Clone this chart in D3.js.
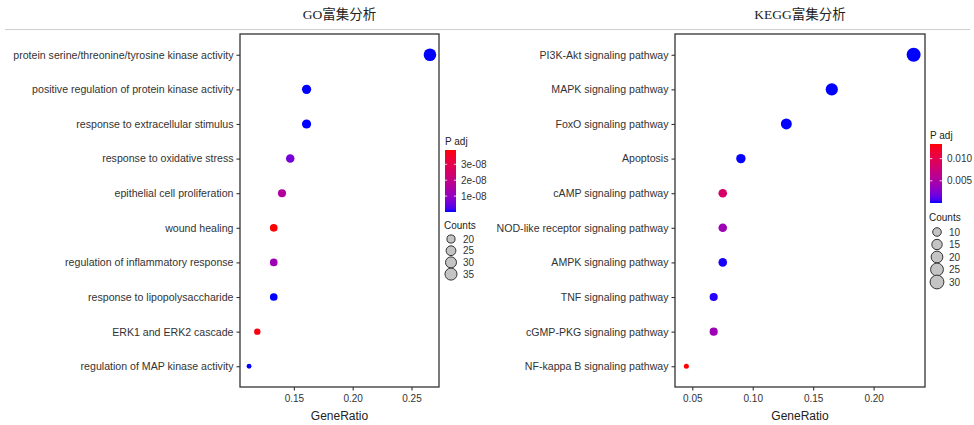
<!DOCTYPE html>
<html><head><meta charset="utf-8">
<script src="https://cdn.jsdelivr.net/npm/d3@7"></script>
<style>
html,body{margin:0;padding:0;background:#fff;}
svg{display:block;}
text{font-family:"Liberation Sans",Arial,sans-serif;}
.title{font-family:"Liberation Serif","Noto Sans CJK SC",serif;}
</style></head>
<body>
<svg id="chart" width="974" height="425"></svg>
<script>
// ---------- data ----------
const goTerms = [
  "protein serine/threonine/tyrosine kinase activity",
  "positive regulation of protein kinase activity",
  "response to extracellular stimulus",
  "response to oxidative stress",
  "epithelial cell proliferation",
  "wound healing",
  "regulation of inflammatory response",
  "response to lipopolysaccharide",
  "ERK1 and ERK2 cascade",
  "regulation of MAP kinase activity"
];
const goRatio  = [0.2657, 0.1608, 0.1608, 0.1469, 0.1399, 0.1329, 0.1329, 0.1329, 0.1189, 0.1119];
const goCount  = [38, 23, 23, 21, 20, 19, 19, 19, 17, 16];
const goPadj   = [1e-15, 2e-13, 5e-13, 0.6e-8, 1.6e-8, 3.9e-8, 1.2e-8, 1e-12, 3.8e-8, 3e-12];
const goPTicks = [1e-8, 2e-8, 3e-8];
const goPLabels = ["1e-08", "2e-08", "3e-08"];
const goCountTicks = [20, 25, 30, 35];
const goXTicks = [0.15, 0.20, 0.25];

const keggTerms = [
  "PI3K-Akt signaling pathway",
  "MAPK signaling pathway",
  "FoxO signaling pathway",
  "Apoptosis",
  "cAMP signaling pathway",
  "NOD-like receptor signaling pathway",
  "AMPK signaling pathway",
  "TNF signaling pathway",
  "cGMP-PKG signaling pathway",
  "NF-kappa B signaling pathway"
];
const keggRatio = [0.2331, 0.1654, 0.1278, 0.0902, 0.0752, 0.0752, 0.0752, 0.0677, 0.0677, 0.0451];
const keggCount = [31, 22, 17, 12, 10, 10, 10, 9, 9, 6];
const keggPadj  = [1e-9, 2e-7, 5e-6, 2e-5, 0.0086, 0.0041, 1e-4, 2e-4, 0.0040, 0.0133];
const keggPTicks = [0.005, 0.010];
const keggPLabels = ["0.005", "0.010"];
const keggCountTicks = [10, 15, 20, 25, 30];
const keggXTicks = [0.05, 0.10, 0.15, 0.20];

const titles = ["GO富集分析", "KEGG富集分析"];

// ---------- drawing ----------
const svg = d3.select("#chart");
svg.append("rect").attr("width", 974).attr("height", 425).attr("fill", "#fff");
svg.append("line").attr("x1", 5).attr("x2", 970).attr("y1", 29.5).attr("y2", 29.5)
  .attr("stroke", "#cfcfcf").attr("stroke-width", 1);

const colInterp = d3.interpolateLab("#0000ff", "#ff0000");

function panel(cfg) {
  const {terms, ratio, count, padj, pTicks, pLabels, countTicks, xTicks, title,
         left, right, top, bottom, legX} = cfg;
  const g = svg.append("g");
  const ext = d3.extent(ratio), pad = (ext[1] - ext[0]) * 0.05;
  const x = d3.scaleLinear().domain([ext[0] - pad, ext[1] + pad]).range([left, right]);
  const y = d3.scalePoint().domain(terms).range([top, bottom]).padding(0.6);
  const cExt = d3.extent(count);
  const t = d3.scaleLinear().domain(cExt).range([0, 1]);
  const rMin = cfg.rMin, rMax = cfg.rMax;
  const r = c => rMin + (rMax - rMin) * Math.sqrt(Math.max(0, t(c)));
  const pExt = d3.extent(padj);
  const pc = d3.scaleLinear().domain(pExt).range([0, 1]);
  const color = p => colInterp(pc(p));

  // title
  g.append("text").attr("class", "title").attr("x", (left + right) / 2).attr("y", 19)
    .attr("text-anchor", "middle").attr("font-size", 13.5).attr("fill", "#222").text(title);

  // points
  const data = terms.map((d, i) => ({term: d, ratio: ratio[i], count: count[i], p: padj[i]}));
  g.selectAll("circle.pt").data(data).join("circle").attr("class", "pt")
    .attr("cx", d => x(d.ratio)).attr("cy", d => y(d.term))
    .attr("r", d => r(d.count)).attr("fill", d => color(d.p));

  // box
  g.append("rect").attr("x", left).attr("y", top).attr("width", right - left).attr("height", bottom - top)
    .attr("fill", "none").attr("stroke", "#333").attr("stroke-width", 1.3);

  // y axis
  const ya = g.append("g").attr("transform", `translate(${left},0)`)
    .call(d3.axisLeft(y).tickSize(3.5).tickPadding(3));
  ya.select(".domain").remove();
  ya.selectAll("line").attr("stroke", "#333").attr("stroke-width", 1.1);
  ya.selectAll("text").attr("font-size", 10.6).attr("fill", "#333")
    .attr("font-family", "Liberation Sans, Arial, sans-serif");

  // x axis
  const xa = g.append("g").attr("transform", `translate(0,${bottom})`)
    .call(d3.axisBottom(x).tickValues(xTicks).tickFormat(d3.format(".2f")).tickSize(3.5).tickPadding(4));
  xa.select(".domain").remove();
  xa.selectAll("line").attr("stroke", "#333").attr("stroke-width", 1.1);
  xa.selectAll("text").attr("font-size", 10).attr("fill", "#333")
    .attr("font-family", "Liberation Sans, Arial, sans-serif");
  g.append("text").attr("x", (left + right) / 2).attr("y", 420).attr("text-anchor", "middle")
    .attr("font-size", 12).attr("fill", "#222").text("GeneRatio");

  // colour legend
  const lg = g.append("g");
  const barX = legX, barW = cfg.barW, barTop = cfg.barTop, barBot = cfg.barBot;
  lg.append("text").attr("x", barX).attr("y", barTop - 5).attr("font-size", 10).attr("fill", "#222").text("P adj");
  const gid = "grad" + cfg.id;
  const grad = svg.append("defs").append("linearGradient").attr("id", gid)
    .attr("x1", 0).attr("y1", 1).attr("x2", 0).attr("y2", 0);
  d3.range(0, 1.0001, 0.05).forEach(s => grad.append("stop").attr("offset", s).attr("stop-color", colInterp(s)));
  lg.append("rect").attr("x", barX).attr("y", barTop).attr("width", barW).attr("height", barBot - barTop)
    .attr("fill", `url(#${gid})`);
  const py = d3.scaleLinear().domain(pExt).range([barBot, barTop]);
  pTicks.forEach((v, i) => {
    const yy = py(v);
    lg.append("line").attr("x1", barX).attr("x2", barX + barW * 0.2).attr("y1", yy).attr("y2", yy)
      .attr("stroke", "#fff").attr("stroke-width", 1).attr("opacity", 0.8);
    lg.append("line").attr("x1", barX + barW * 0.8).attr("x2", barX + barW).attr("y1", yy).attr("y2", yy)
      .attr("stroke", "#fff").attr("stroke-width", 1).attr("opacity", 0.8);
    lg.append("text").attr("x", barX + barW + 5).attr("y", yy + 3.5).attr("font-size", 10)
      .attr("fill", "#333").text(pLabels[i]);
  });

  // size legend
  const sy0 = cfg.sizeTop;
  lg.append("text").attr("x", barX - 1).attr("y", sy0).attr("font-size", 10).attr("fill", "#222").text("Counts");
  countTicks.forEach((c, i) => {
    const cy = sy0 + cfg.sizeFirst + i * cfg.sizeStep;
    lg.append("circle").attr("cx", barX + cfg.sizeCx).attr("cy", cy).attr("r", r(c))
      .attr("fill", "#c4c4c4").attr("stroke", "#333").attr("stroke-width", 1);
    lg.append("text").attr("x", barX + cfg.sizeLx).attr("y", cy + 3.5).attr("font-size", 10)
      .attr("fill", "#333").text(c);
  });
}

panel({id: "go", terms: goTerms, ratio: goRatio, count: goCount, padj: goPadj,
  pTicks: goPTicks, pLabels: goPLabels, countTicks: goCountTicks, xTicks: goXTicks, title: titles[0],
  left: 240, right: 439, top: 34, bottom: 387, legX: 445, barW: 11, barTop: 150, barBot: 212,
  sizeTop: 229, sizeFirst: 10, sizeStep: 11.7, sizeCx: 6, sizeLx: 18, rMin: 2.4, rMax: 6.3});

panel({id: "kegg", terms: keggTerms, ratio: keggRatio, count: keggCount, padj: keggPadj,
  pTicks: keggPTicks, pLabels: keggPLabels, countTicks: keggCountTicks, xTicks: keggXTicks, title: titles[1],
  left: 675, right: 925, top: 34, bottom: 387, legX: 930, barW: 12, barTop: 144, barBot: 203,
  sizeTop: 221, sizeFirst: 11, sizeStep: 12.5, sizeCx: 7, sizeLx: 19, rMin: 2.5, rMax: 7.0});
</script>
</body></html>
